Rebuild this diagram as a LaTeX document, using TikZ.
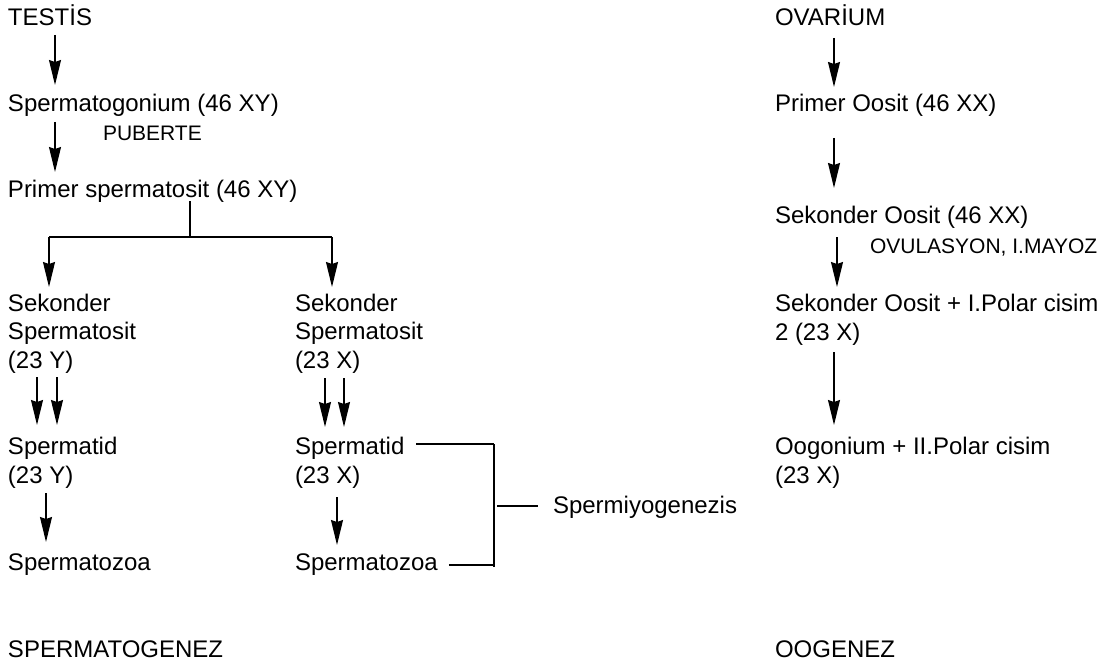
\documentclass[tikz,border=0pt]{standalone}
\usepackage{fontspec}
\setmainfont{Liberation Sans}
\usetikzlibrary{arrows.meta}
\tikzset{
  lbl/.style={anchor=base west, inner sep=0pt, outer sep=0pt, font=\fontsize{24}{28.5}\selectfont, align=left},
  sml/.style={anchor=base west, inner sep=0pt, outer sep=0pt, font=\fontsize{21}{25}\selectfont},
  arr/.style={line width=1.4pt, -{Stealth[length=25pt,width=12pt,inset=2pt]}},
  ln/.style={line width=1.1pt},
  thk/.style={line width=2.2pt}
}
\begin{document}
\begin{tikzpicture}[x=1pt,y=-1pt]
\useasboundingbox (0,0) rectangle (1105,666);
% male column (multi-line nodes are placed by the baseline of their last line)
\node[lbl] (testis) at (8,26) {TESTİS};
\node[lbl] (sg) at (8,112) {Spermatogonium (46 XY)};
\node[sml] (pub) at (103,141) {PUBERTE};
\node[lbl] (ps) at (8,197) {Primer spermatosit (46 XY)};
\node[lbl] (sekY) at (8,368) {Sekonder\\Spermatosit\\(23 Y)};
\node[lbl] (sekX) at (295,368) {Sekonder\\Spermatosit\\(23 X)};
\node[lbl] (tidY) at (8,483) {Spermatid\\(23 Y)};
\node[lbl] (tidX) at (295,483) {Spermatid\\(23 X)};
\node[lbl] (zoaY) at (8,570) {Spermatozoa};
\node[lbl] (zoaX) at (295,570) {Spermatozoa};
\node[lbl] (spy) at (553,513) {Spermiyogenezis};
\node[lbl] (spg) at (8,657) {SPERMATOGENEZ};
% female column
\node[lbl] (ova) at (775,26) {OVARİUM};
\node[lbl] (po) at (775,112) {Primer Oosit (46 XX)};
\node[lbl] (so) at (775,223) {Sekonder Oosit (46 XX)};
\node[sml] (ovu) at (870,253) {OVULASYON, I.MAYOZ};
\node[lbl] (sopc) at (775,340) {Sekonder Oosit + I.Polar cisim\\2 (23 X)};
\node[lbl] (oog) at (775,483) {Oogonium + II.Polar cisim\\(23 X)};
\node[lbl] (oogz) at (775,657) {OOGENEZ};
% column coordinates
\coordinate (c55) at (55,0);
\coordinate (c190) at (190,0);
\coordinate (c49) at (49,0);
\coordinate (c332) at (332,0);
\coordinate (c37) at (37,0);
\coordinate (c57) at (57,0);
\coordinate (c325) at (325,0);
\coordinate (c344) at (344,0);
\coordinate (c46) at (46,0);
\coordinate (c337) at (337,0);
\coordinate (c834) at (834,0);
\coordinate (c837) at (837,0);
\coordinate (br) at (494,0);
\coordinate (r237) at (0,237);
% male arrows
\draw[arr] ([yshift=-9pt]testis.base -| c55) -- ([yshift=27pt]sg.base -| c55);
\draw[arr] ([yshift=-10pt]sg.base -| c55) -- ([yshift=25pt]ps.base -| c55);
\draw[ln] ([yshift=-4pt]ps.base -| c190) -- (c190 |- r237);
\draw[ln] (c49 |- r237) -- (c332 |- r237);
\draw[arr] (c49 |- r237) -- ([yshift=81pt]sekY.base -| c49);
\draw[arr] (c332 |- r237) -- ([yshift=81pt]sekX.base -| c332);
\draw[arr] ([yshift=-9pt]sekY.base -| c37) -- ([yshift=58pt]tidY.base -| c37);
\draw[arr] ([yshift=-9pt]sekY.base -| c57) -- ([yshift=58pt]tidY.base -| c57);
\draw[arr] ([yshift=-10pt]sekX.base -| c325) -- ([yshift=56pt]tidX.base -| c325);
\draw[arr] ([yshift=-10pt]sekX.base -| c344) -- ([yshift=56pt]tidX.base -| c344);
\draw[arr] ([yshift=-10pt]tidY.base -| c46) -- ([yshift=28pt]zoaY.base -| c46);
\draw[arr] ([yshift=-14pt]tidX.base -| c337) -- ([yshift=25pt]zoaX.base -| c337);
% bracket
\draw[ln] ([xshift=12pt,yshift=39pt]tidX.base east) -- ([yshift=39pt]tidX.base -| br);
\draw[thk] ([yshift=39pt]tidX.base -| br) -- ([yshift=3pt]zoaX.base -| br);
\draw[ln] ([xshift=11pt,yshift=5pt]zoaX.base east) -- ([yshift=5pt]zoaX.base -| br);
\draw[ln] ([xshift=3pt,yshift=7pt]spy.base west -| br) -- ([xshift=-15pt,yshift=7pt]spy.base west);
% female arrows
\draw[arr] ([yshift=-12pt]ova.base -| c834) -- ([yshift=25pt]po.base -| c834);
\draw[arr] ([yshift=-26pt]po.base -| c834) -- ([yshift=35pt]so.base -| c834);
\draw[arr] ([yshift=-14pt]so.base -| c837) -- ([yshift=53pt]sopc.base -| c837);
\draw[arr] ([yshift=-12pt]sopc.base -| c834) -- ([yshift=58pt]oog.base -| c834);
\end{tikzpicture}
\end{document}
